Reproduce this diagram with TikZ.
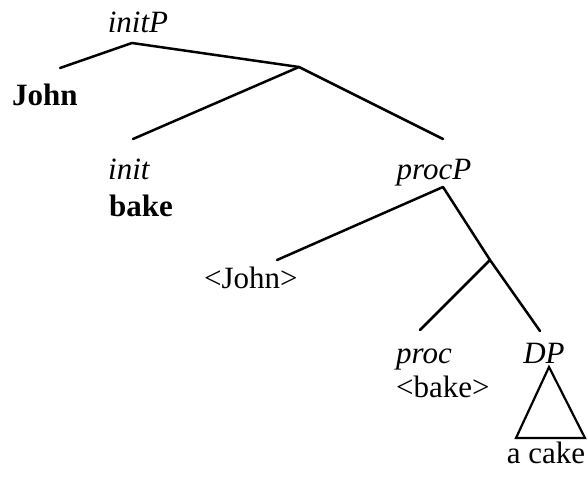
\documentclass[tikz,border=0pt]{standalone}
\usepackage{fontspec}
\setmainfont{Liberation Serif}
\begin{document}
\begin{tikzpicture}[x=1pt,y=-1pt,
  lbl/.style={inner sep=0pt,font=\fontsize{31}{35}\selectfont},
  edge/.style={line width=2.5pt,line cap=round,line join=round}]
\useasboundingbox (0,0) rectangle (588,478);
% labels
\node[lbl,anchor=base] (initP) at (138,33) {\itshape initP};
\node[lbl,anchor=base west] (John) at (12,106) {\bfseries John};
\node[lbl,anchor=base west] (init) at (108,180) {\itshape init};
\node[lbl,anchor=base west] (bake) at (109,216) {\bfseries bake};
\node[lbl,anchor=base] (procP) at (434,180) {\itshape procP};
\node[lbl,anchor=base west] (tJohn) at (204,288) {<John>};
\node[lbl,anchor=base west] (proc) at (396,363) {\itshape proc};
\node[lbl,anchor=base west] (tbake) at (396,397) {<bake>};
\node[lbl,anchor=base] (DP) at (544,363) {\itshape DP};
\node[lbl,anchor=base] (cake) at (546,463) {a cake};
% junction points
\coordinate (r) at (132,43);
\coordinate (johnE) at (60,68);
\coordinate (ibar) at (299,67);
\coordinate (initE) at (133,139);
\coordinate (procPE) at (443,139);
\coordinate (pp) at (443,187);
\coordinate (tJohnE) at (277,260);
\coordinate (pbar) at (490,260);
\coordinate (procE) at (420,330);
\coordinate (DPE) at (540,331);
\coordinate (ta) at (549,367);
\coordinate (tl) at (516,438);
\coordinate (tr) at (585,438);
% edges
\draw[edge] (johnE) -- (r) -- (ibar);
\draw[edge] (initE) -- (ibar) -- (procPE);
\draw[edge] (tJohnE) -- (pp) -- (pbar);
\draw[edge] (procE) -- (pbar) -- (DPE);
\draw[line width=2.2pt,line join=miter] (ta) -- (tl) -- (tr) -- cycle;
\end{tikzpicture}
\end{document}
